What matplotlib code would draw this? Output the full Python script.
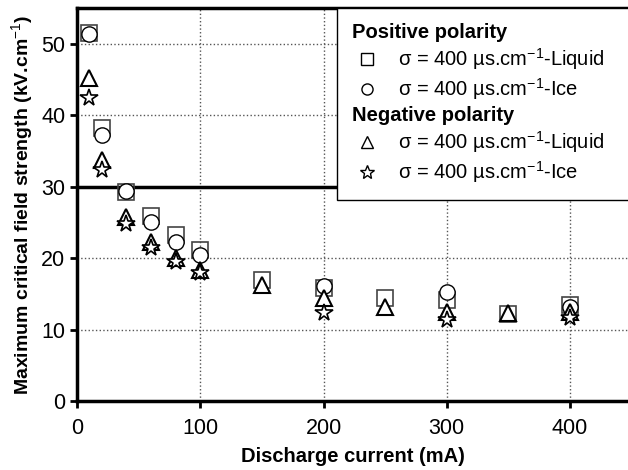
import matplotlib
matplotlib.use("Agg")
import matplotlib.pyplot as plt
from matplotlib.lines import Line2D

plt.rcParams['font.family'] = ['Liberation Sans', 'DejaVu Sans']
plt.rcParams['mathtext.fontset'] = 'custom'
plt.rcParams['mathtext.rm'] = 'Liberation Sans'
plt.rcParams['mathtext.bf'] = 'Liberation Sans:bold'

# discharge current (mA) and max critical field (kV/cm)
cur_full = [10, 20, 40, 60, 80, 100, 150, 200, 250, 300, 350, 400]
cur_part = [10, 20, 40, 60, 80, 100, 200, 300, 400]
pos_liquid = [51.5, 38.2, 29.3, 25.9, 23.2, 21.1, 16.9, 15.8, 14.4, 14.1, 12.2, 13.4]
pos_ice = [51.3, 37.2, 29.4, 25.0, 22.3, 20.4, 16.1, 15.2, 13.1]
neg_liquid = [45.2, 33.7, 25.7, 22.2, 20.0, 18.3, 16.2, 14.4, 13.1, 12.4, 12.3, 12.4]
neg_ice = [42.4, 32.3, 24.8, 21.4, 19.4, 17.9, 12.3, 11.3, 11.6]

xticks = [0, 100, 200, 300, 400]
yticks = [0, 10, 20, 30, 40, 50]

fig = plt.figure(figsize=(6.28, 4.70), dpi=100)
ax = fig.add_axes([0.1226, 0.1468, 0.8774, 0.8362])

ms = 11
ax.plot(cur_full, pos_liquid, 's', ms=ms, mfc='none', mec='#444444', mew=1.2, zorder=3)
ax.plot(cur_part, pos_ice, 'o', ms=ms, mfc='white', mec='black', mew=1.0, zorder=4)
ax.plot(cur_full, neg_liquid, '^', ms=ms + 1, mfc='white', mec='black', mew=1.5, zorder=5)
ax.plot(cur_part, neg_ice, '*', ms=ms + 2, mfc='white', mec='black', mew=1.2, zorder=6)

ax.set_xlim(0, 447)
ax.set_ylim(0, 55)
ax.set_xticks(xticks)
ax.set_yticks(yticks)
ax.tick_params(labelsize=15.5, direction='out', length=5, width=2)
ax.tick_params(axis='x', pad=7)

for x in xticks[1:]:
    ax.axvline(x, color='#555555', lw=1, ls=':', zorder=1)
for y in yticks[1:]:
    if y == 30:
        ax.axhline(y, color='black', lw=2.5, zorder=1)
    else:
        ax.axhline(y, color='#555555', lw=1, ls=':', zorder=1)

for s in ['left', 'bottom', 'top']:
    ax.spines[s].set_linewidth(2.5)
ax.spines['right'].set_visible(False)

ax.set_xlabel('Discharge current (mA)', fontsize=14.5, fontweight='bold', labelpad=6)
ax.set_ylabel('Maximum critical field strength (kV.cm$^{-1}$)', fontsize=14,
              fontweight='bold', labelpad=4)

lab_liq = 'σ = 400 µs.cm$^{-1}$-Liquid'
lab_ice = 'σ = 400 µs.cm$^{-1}$-Ice'
blank = Line2D([], [], color='none')
handles = [blank,
           Line2D([], [], ls='none', marker='s', ms=8, mfc='none', mec='black', mew=1),
           Line2D([], [], ls='none', marker='o', ms=8, mfc='none', mec='black', mew=1),
           blank,
           Line2D([], [], ls='none', marker='^', ms=9, mfc='none', mec='black', mew=1),
           Line2D([], [], ls='none', marker='*', ms=10, mfc='none', mec='black', mew=1)]
labels = ['Positive polarity', lab_liq, lab_ice, 'Negative polarity', lab_liq, lab_ice]
leg = ax.legend(handles, labels, loc='upper left', bbox_to_anchor=(0.472, 0.0, 0.6, 1.0),
                mode='expand', fontsize=14.5, frameon=True, fancybox=False, framealpha=1,
                edgecolor='black', borderaxespad=0, handlelength=1.5,
                handletextpad=0.8, labelspacing=0.2, borderpad=0.75)
leg.get_frame().set_linewidth(1)
leg.set_zorder(10)
for i in (0, 3):
    leg.get_texts()[i].set_fontweight('bold')

# pull header rows to the left edge of the legend
rows = leg._legend_handle_box.get_children()[0].get_children()
for i in (0, 3):
    rows[i].get_children()[0].set_width(0)
    rows[i].sep = 0

fig.savefig('out.png', dpi=100)
